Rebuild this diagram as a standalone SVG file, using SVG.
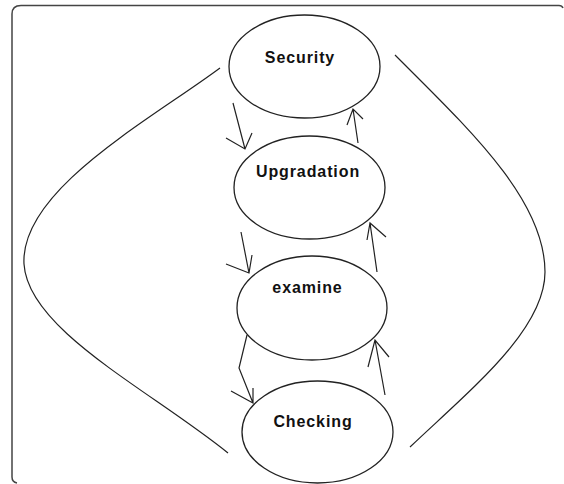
<svg xmlns="http://www.w3.org/2000/svg" width="564" height="484" viewBox="0 0 564 484">
<style>
.frame{fill:none;stroke:#444;stroke-width:1.5}
.node ellipse{fill:#fff;stroke:#222;stroke-width:1.3}
.node text{font-family:"Liberation Sans",Arial,sans-serif;font-weight:bold;font-size:16px;letter-spacing:0.9px;fill:#111;text-anchor:middle}
.conn path{fill:none;stroke:#222;stroke-width:1.2}
.curve{fill:none;stroke:#333;stroke-width:1.1}
</style>
<rect width="564" height="484" fill="#fff"/>
<path class="frame" d="M563,8 Q562,5.5 559,5.5 L21,5.5 Q12,5.5 12,14 L12,477 Q12,482 17,483"/>
<g id="connectors" class="conn">
<path class="curve" d="M220,68 C150,120 20,190 24,264 C28,330 150,390 228,453"/>
<path class="curve" d="M395,55 C470,130 545,200 545,272 C545,330 470,390 410,447"/>
<path d="M233,103 L245,149 M226,138 L245,149 L252,133"/>
<path d="M358,143 L353,109 M347,125 L353,109 L363,119"/>
<path d="M241,232 L249,273 M226,264 L249,273 L252,255"/>
<path d="M377,272 L370,223 M367,240 L370,223 L386,237"/>
<path d="M247,335 L239,368 L253,403 M231,391 L253,403 L253,388"/>
<path d="M385,395 L375,340 M368,367 L375,340 L389,357"/>
</g>
<g id="security" class="node"><ellipse cx="304.5" cy="66.5" rx="75.5" ry="51.5"/><text x="300" y="63">Security</text></g>
<g id="upgradation" class="node"><ellipse cx="309.5" cy="187.5" rx="75.5" ry="51.5"/><text x="308" y="177">Upgradation</text></g>
<g id="examine" class="node"><ellipse cx="312" cy="308" rx="75" ry="52"/><text x="307.5" y="293">examine</text></g>
<g id="checking" class="node"><ellipse cx="317.5" cy="432" rx="75.5" ry="51"/><text x="313" y="427">Checking</text></g>
</svg>
